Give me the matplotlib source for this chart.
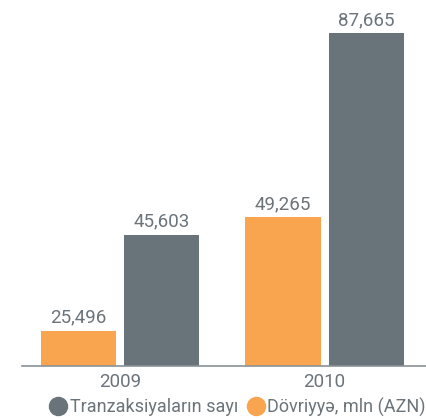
import matplotlib
matplotlib.use("Agg")
import matplotlib.pyplot as plt
from matplotlib.lines import Line2D
import numpy as np

years = ["2009", "2010"]
transactions = [45603, 87665]
turnover = [25496, 49265]
series_names = ["Tranzaksiyaların sayı", "Dövriyyə, mln (AZN)"]

GRAY = "#68737a"
ORANGE = "#f9a54f"
TEXT = "#6b747b"

plt.rcParams['font.family'] = ['Roboto', 'DejaVu Sans']

fig = plt.figure(figsize=(4.27, 4.19), dpi=100)
ax = fig.add_axes([22/427, (419-366)/419, 405/427, 366/419])

x = np.arange(len(years))
w = 0.367
off = 0.203
b1 = ax.bar(x - off, turnover, width=w, color=ORANGE)
b2 = ax.bar(x + off, transactions, width=w, color=GRAY)

ax.set_ylim(18194, 94560)
ax.set_xlim(-0.479, 1.501)

fmt = lambda v: f"{v:,.0f}"
ax.bar_label(b1, labels=[fmt(v) for v in turnover], padding=3, fontsize=13.5, color=TEXT)
ax.bar_label(b2, labels=[fmt(v) for v in transactions], padding=3, fontsize=13.5, color=TEXT)

for s in ["top", "right", "left"]:
    ax.spines[s].set_visible(False)
ax.spines["bottom"].set_color("#8a9298")
ax.spines["bottom"].set_linewidth(1.2)
ax.set_yticks([])
ax.set_xticks(x)
ax.set_xticklabels(years, fontsize=13.5, color=TEXT)
ax.tick_params(axis="x", length=0, pad=5)

handles = [Line2D([], [], marker="o", linestyle="", markersize=13, color=GRAY),
           Line2D([], [], marker="o", linestyle="", markersize=13, color=ORANGE)]
leg = fig.legend(handles, series_names, loc="center right", bbox_to_anchor=(426/427, (419-407)/419),
                 ncol=2, frameon=False, fontsize=13, handletextpad=0.0, columnspacing=0.3,
                 handlelength=1.3, borderpad=0, borderaxespad=0)
for t in leg.get_texts():
    t.set_color(TEXT)

fig.savefig("out.png", dpi=100)
